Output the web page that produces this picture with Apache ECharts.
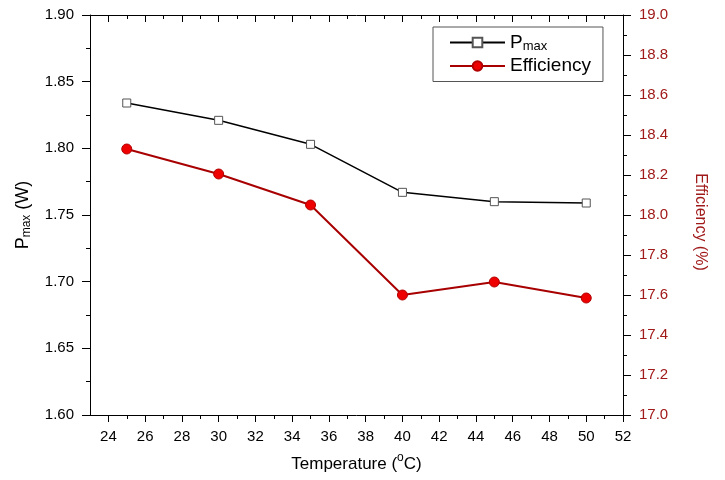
<!DOCTYPE html>
<html><head><meta charset="utf-8">
<script src="https://cdn.jsdelivr.net/npm/echarts@6/dist/echarts.min.js"></script>
<style>html,body{margin:0;padding:0;background:#fff}#c{width:725px;height:480px}</style>
</head><body><div id="c"></div>
<script>
const temperatures = [25, 30, 35, 40, 45, 50];
const pmaxValues = [1.834, 1.821, 1.803, 1.767, 1.760, 1.759];
const efficiencyValues = [18.33, 18.205, 18.05, 17.60, 17.665, 17.585];
const xMajorTicks = [24, 26, 28, 30, 32, 34, 36, 38, 40, 42, 44, 46, 48, 50, 52];
const xMinorTicks = [25, 27, 29, 31, 33, 35, 37, 39, 41, 43, 45, 47, 49, 51];

const FONT = 'Liberation Sans, Arial, sans-serif';
const DARKRED = '#a11a1a';
const chart = echarts.init(document.getElementById('c'));
const baseX = {type: 'value', min: 23, max: 52, splitLine: {show: false}};
const lineStyle = {color: '#000', width: 1};
chart.setOption({
  animation: false,
  grid: {left: 90, right: 102, top: 15, bottom: 65},
  legend: {
    orient: 'vertical', left: 433, top: 27, width: 167,
    padding: [6, 12, 6, 16], borderColor: '#555', borderWidth: 1,
    itemWidth: 55, itemHeight: 12, itemGap: 4,
    textStyle: {fontFamily: FONT, fontSize: 19, color: '#000',
      rich: {b: {fontFamily: FONT, fontSize: 19}, s: {fontFamily: FONT, fontSize: 13, verticalAlign: 'bottom', padding: [7, 0, 0, 0]}}},
    formatter: n => n === 'Pmax' ? '{b|P}{s|max}' : n,
    data: ['Pmax', 'Efficiency']
  },
  xAxis: [
    Object.assign({}, baseX, {position: 'bottom',
      axisLine: {show: true, onZero: false, lineStyle},
      axisTick: {show: true, length: 7, customValues: xMajorTicks, lineStyle},
      axisLabel: {customValues: xMajorTicks, margin: 14, fontFamily: FONT, fontSize: 15, color: '#000'},
      name: '{b|Temperature (}{s|o}{b|C)}', nameLocation: 'middle', nameGap: 37,
      nameTextStyle: {fontFamily: FONT, fontSize: 17, color: '#000',
        rich: {b: {fontFamily: FONT, fontSize: 17}, s: {fontFamily: FONT, fontSize: 12, verticalAlign: 'top', padding: [0, 0, 13, 0]}}}
    }),
    Object.assign({}, baseX, {position: 'top',
      axisLine: {show: true, onZero: false, lineStyle},
      axisTick: {show: true, inside: true, length: 7, customValues: xMajorTicks, lineStyle},
      axisLabel: {show: false}}),
    Object.assign({}, baseX, {position: 'bottom',
      axisLine: {show: false, onZero: false},
      axisTick: {show: true, length: 4, customValues: xMinorTicks, lineStyle},
      axisLabel: {show: false}}),
    Object.assign({}, baseX, {position: 'top',
      axisLine: {show: false, onZero: false},
      axisTick: {show: true, inside: true, length: 4, customValues: xMinorTicks, lineStyle},
      axisLabel: {show: false}})
  ],
  yAxis: [
    {type: 'value', position: 'left', min: 1.6, max: 1.9, interval: 0.05,
      splitLine: {show: false},
      axisLine: {show: true, onZero: false, lineStyle},
      axisTick: {show: true, length: 8, lineStyle},
      minorTick: {show: true, splitNumber: 2, length: 4, lineStyle},
      axisLabel: {margin: 16, fontFamily: FONT, fontSize: 15, color: '#000', formatter: v => v.toFixed(2)},
      name: '{b|P}{s|max}{b| (W)}', nameLocation: 'middle', nameGap: 57, nameRotate: 90,
      nameTextStyle: {fontFamily: FONT, fontSize: 17, color: '#000',
        rich: {b: {fontFamily: FONT, fontSize: 18}, s: {fontFamily: FONT, fontSize: 12, verticalAlign: 'bottom', padding: [7, 0, 0, 0]}}}
    },
    {type: 'value', position: 'right', min: 17, max: 19, interval: 0.2,
      splitLine: {show: false},
      axisLine: {show: true, onZero: false, lineStyle},
      axisTick: {show: true, length: 8, lineStyle},
      minorTick: {show: true, splitNumber: 2, length: 4, lineStyle},
      axisLabel: {margin: 16, fontFamily: FONT, fontSize: 15, color: DARKRED, formatter: v => v.toFixed(1)},
      name: 'Efficiency (%)', nameLocation: 'middle', nameGap: 69, nameRotate: -90,
      nameTextStyle: {fontFamily: FONT, fontSize: 16, color: DARKRED, padding: [0, 0, 0, 14]}
    }
  ],
  series: [
    {name: 'Pmax', type: 'line', xAxisIndex: 0, yAxisIndex: 0,
      data: temperatures.map((t, i) => [t, pmaxValues[i]]),
      symbol: 'rect', symbolSize: 8, showAllSymbol: true,
      lineStyle: {color: '#000', width: 1.5},
      itemStyle: {color: '#fff', borderColor: '#555', borderWidth: 1}},
    {name: 'Efficiency', type: 'line', xAxisIndex: 0, yAxisIndex: 1,
      data: temperatures.map((t, i) => [t, efficiencyValues[i]]),
      symbol: 'circle', symbolSize: 10,
      lineStyle: {color: '#a80000', width: 2},
      itemStyle: {color: '#ee0000', borderColor: '#b00000', borderWidth: 1}}
  ]
});
</script></body></html>
